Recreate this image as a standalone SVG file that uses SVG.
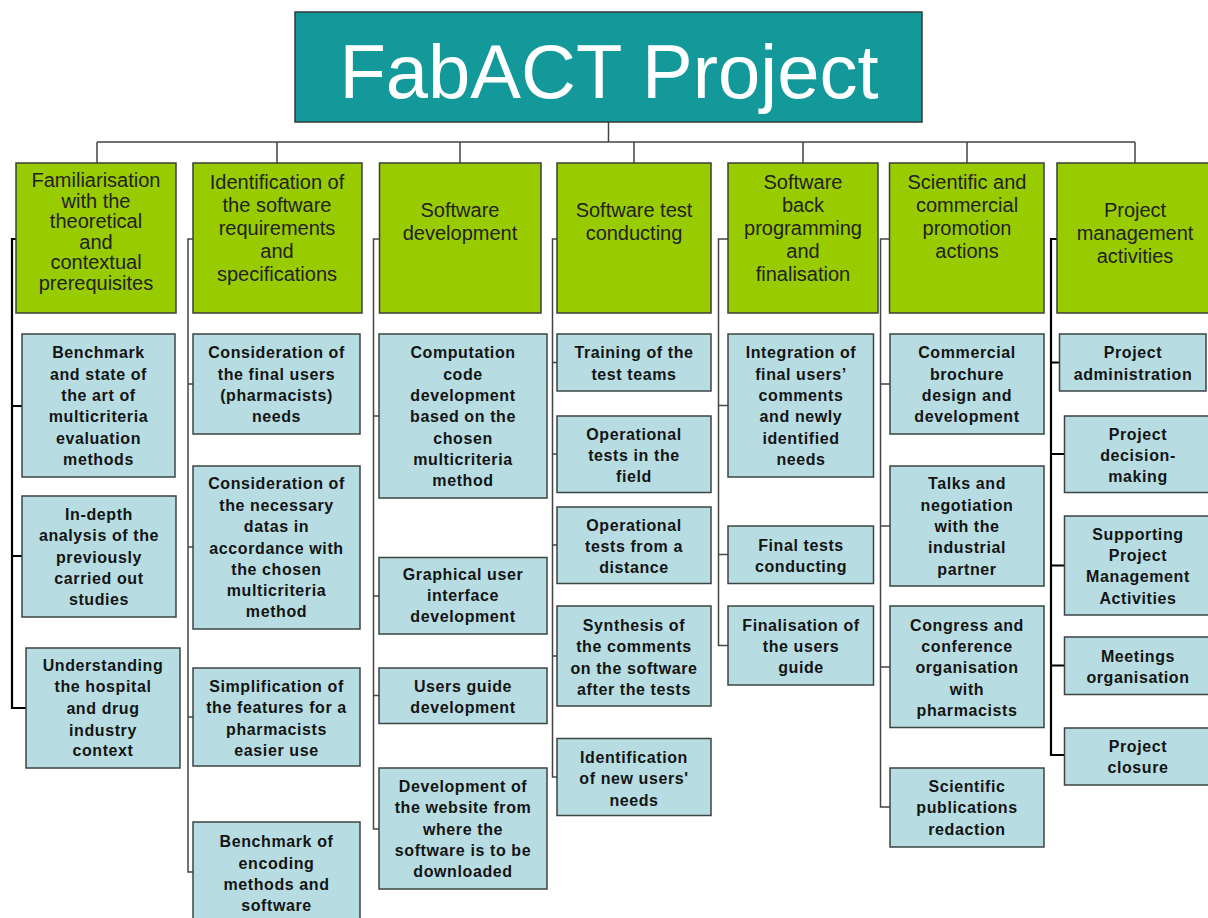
<svg xmlns="http://www.w3.org/2000/svg" width="1208" height="918" viewBox="0 0 1208 918">
<style>
.title{fill:#14999b;stroke:#2f3a3a;stroke-width:1.5}
.hdr{fill:#99cc00;stroke:#3a3f3a;stroke-width:1.5}
.box{fill:#b7dde2;stroke:#3c4444;stroke-width:1.5}
.tt{font-family:"Liberation Sans",Arial,sans-serif;font-size:76px;fill:#ffffff;text-anchor:middle}
.ht{font-family:"Liberation Sans",Arial,sans-serif;font-size:20px;fill:#222222;text-anchor:middle}
.bt{font-family:"Liberation Sans",Arial,sans-serif;font-size:16px;font-weight:bold;letter-spacing:0.6px;fill:#141414;text-anchor:middle}
.ln{fill:none;stroke:#444444;stroke-width:1.5}
.lk{fill:none;stroke:#000000;stroke-width:2.2}
</style>
<rect width="1208" height="918" fill="#ffffff"/>
<g id="connectors">
<path class="ln" d="M608.5,122 V142 M97,142 H1135 M97,142 V163 M277,142 V163 M460,142 V163 M634,142 V163 M803,142 V163 M967,142 V163 M1135,142 V163"/>
<path class="lk" d="M16,239 H12 V708 H26 M12,406 H22 M12,556 H22"/>
<path class="ln" d="M193,239 H188 V872 H193 M188,384 H193 M188,547 H193 M188,717 H193"/>
<path class="ln" d="M379,239 H373.5 V829 H379 M373.5,416 H379 M373.5,596 H379 M373.5,695.5 H379"/>
<path class="ln" d="M557,239 H552.5 V777 H557 M552.5,362.5 H557 M552.5,454 H557 M552.5,545 H557 M552.5,656 H557"/>
<path class="ln" d="M728,239 H718.5 V645.5 H728 M718.5,405.5 H728 M718.5,554.5 H728"/>
<path class="ln" d="M890,239 H880.5 V807 H890 M880.5,384 H890 M880.5,526 H890 M880.5,667 H890"/>
<path class="lk" d="M1057,239 H1051 V755 H1064 M1051,362.5 H1059 M1051,454 H1064 M1051,565.5 H1064 M1051,665.5 H1064"/>
</g>
<g id="root">
<rect class="title" x="295" y="12" width="627" height="110"/>
<text class="tt" x="609" y="98">FabACT Project</text>
</g>
<g id="h1">
<rect class="hdr" x="16" y="163" width="160" height="150"/>
<text class="ht"><tspan x="96" y="187">Familiarisation</tspan><tspan x="96" y="207.5">with the</tspan><tspan x="96" y="228">theoretical</tspan><tspan x="96" y="248.5">and</tspan><tspan x="96" y="269">contextual</tspan><tspan x="96" y="289.5">prerequisites</tspan></text>
</g>
<g id="h2">
<rect class="hdr" x="193" y="163" width="169" height="150"/>
<text class="ht"><tspan x="277" y="189">Identification of</tspan><tspan x="277" y="212">the software</tspan><tspan x="277" y="235">requirements</tspan><tspan x="277" y="258">and</tspan><tspan x="277" y="281">specifications</tspan></text>
</g>
<g id="h3">
<rect class="hdr" x="379.5" y="163" width="161.5" height="150"/>
<text class="ht"><tspan x="460" y="217">Software</tspan><tspan x="460" y="240">development</tspan></text>
</g>
<g id="h4">
<rect class="hdr" x="557" y="163" width="154" height="150"/>
<text class="ht"><tspan x="634" y="217">Software test</tspan><tspan x="634" y="240">conducting</tspan></text>
</g>
<g id="h5">
<rect class="hdr" x="728" y="163" width="150" height="150"/>
<text class="ht"><tspan x="803" y="189">Software</tspan><tspan x="803" y="212">back</tspan><tspan x="803" y="235">programming</tspan><tspan x="803" y="258">and</tspan><tspan x="803" y="281">finalisation</tspan></text>
</g>
<g id="h6">
<rect class="hdr" x="889.5" y="163" width="154.5" height="150"/>
<text class="ht"><tspan x="967" y="189">Scientific and</tspan><tspan x="967" y="212">commercial</tspan><tspan x="967" y="235">promotion</tspan><tspan x="967" y="258">actions</tspan></text>
</g>
<g id="h7">
<rect class="hdr" x="1057" y="163" width="158" height="150"/>
<text class="ht"><tspan x="1135" y="217">Project</tspan><tspan x="1135" y="240">management</tspan><tspan x="1135" y="263">activities</tspan></text>
</g>
<g id="c1a">
<rect class="box" x="22" y="334" width="153" height="143"/>
<text class="bt"><tspan x="98.5" y="358">Benchmark</tspan><tspan x="98.5" y="379.5">and state of</tspan><tspan x="98.5" y="401">the art of</tspan><tspan x="98.5" y="422">multicriteria</tspan><tspan x="98.5" y="443.5">evaluation</tspan><tspan x="98.5" y="465">methods</tspan></text>
</g>
<g id="c1b">
<rect class="box" x="22" y="496" width="154" height="121"/>
<text class="bt"><tspan x="99" y="519.5">In-depth</tspan><tspan x="99" y="541">analysis of the</tspan><tspan x="99" y="562.5">previously</tspan><tspan x="99" y="584">carried out</tspan><tspan x="99" y="605">studies</tspan></text>
</g>
<g id="c1c">
<rect class="box" x="26" y="648" width="154" height="120"/>
<text class="bt"><tspan x="103" y="670.5">Understanding</tspan><tspan x="103" y="692">the hospital</tspan><tspan x="103" y="714">and drug</tspan><tspan x="103" y="735.5">industry</tspan><tspan x="103" y="756">context</tspan></text>
</g>
<g id="c2a">
<rect class="box" x="193" y="334" width="167" height="100"/>
<text class="bt"><tspan x="276.5" y="358">Consideration of</tspan><tspan x="276.5" y="379.5">the final users</tspan><tspan x="276.5" y="401">(pharmacists)</tspan><tspan x="276.5" y="422">needs</tspan></text>
</g>
<g id="c2b">
<rect class="box" x="193" y="466" width="167" height="163"/>
<text class="bt"><tspan x="276.5" y="489">Consideration of</tspan><tspan x="276.5" y="510.5">the necessary</tspan><tspan x="276.5" y="532">datas in</tspan><tspan x="276.5" y="553.5">accordance with</tspan><tspan x="276.5" y="575">the chosen</tspan><tspan x="276.5" y="596">multicriteria</tspan><tspan x="276.5" y="617">method</tspan></text>
</g>
<g id="c2c">
<rect class="box" x="193" y="668" width="167" height="98"/>
<text class="bt"><tspan x="276.5" y="692">Simplification of</tspan><tspan x="276.5" y="713">the features for a</tspan><tspan x="276.5" y="735">pharmacists</tspan><tspan x="276.5" y="756">easier use</tspan></text>
</g>
<g id="c2d">
<rect class="box" x="193" y="822" width="167" height="100"/>
<text class="bt"><tspan x="276.5" y="847">Benchmark of</tspan><tspan x="276.5" y="869">encoding</tspan><tspan x="276.5" y="890">methods and</tspan><tspan x="276.5" y="911">software</tspan></text>
</g>
<g id="c3a">
<rect class="box" x="379" y="334" width="168" height="164"/>
<text class="bt"><tspan x="463" y="358">Computation</tspan><tspan x="463" y="379.5">code</tspan><tspan x="463" y="401">development</tspan><tspan x="463" y="422">based on the</tspan><tspan x="463" y="443.5">chosen</tspan><tspan x="463" y="465">multicriteria</tspan><tspan x="463" y="486">method</tspan></text>
</g>
<g id="c3b">
<rect class="box" x="379" y="557.5" width="168" height="76.5"/>
<text class="bt"><tspan x="463" y="579.5">Graphical user</tspan><tspan x="463" y="601">interface</tspan><tspan x="463" y="622">development</tspan></text>
</g>
<g id="c3c">
<rect class="box" x="379" y="668" width="168" height="55.5"/>
<text class="bt"><tspan x="463" y="692">Users guide</tspan><tspan x="463" y="713">development</tspan></text>
</g>
<g id="c3d">
<rect class="box" x="379" y="768" width="168" height="121"/>
<text class="bt"><tspan x="463" y="792">Development of</tspan><tspan x="463" y="813">the website from</tspan><tspan x="463" y="835">where the</tspan><tspan x="463" y="856">software is to be</tspan><tspan x="463" y="877">downloaded</tspan></text>
</g>
<g id="c4a">
<rect class="box" x="557" y="334" width="154" height="57"/>
<text class="bt"><tspan x="634" y="358">Training of the</tspan><tspan x="634" y="379.5">test teams</tspan></text>
</g>
<g id="c4b">
<rect class="box" x="557" y="416" width="154" height="76.5"/>
<text class="bt"><tspan x="634" y="439.5">Operational</tspan><tspan x="634" y="461">tests in the</tspan><tspan x="634" y="482">field</tspan></text>
</g>
<g id="c4c">
<rect class="box" x="557" y="507" width="154" height="76.5"/>
<text class="bt"><tspan x="634" y="530.5">Operational</tspan><tspan x="634" y="552">tests from a</tspan><tspan x="634" y="573">distance</tspan></text>
</g>
<g id="c4d">
<rect class="box" x="557" y="606" width="154" height="100"/>
<text class="bt"><tspan x="634" y="630.5">Synthesis of</tspan><tspan x="634" y="652">the comments</tspan><tspan x="634" y="674">on the software</tspan><tspan x="634" y="695">after the tests</tspan></text>
</g>
<g id="c4e">
<rect class="box" x="557" y="738.5" width="154" height="77"/>
<text class="bt"><tspan x="634" y="763">Identification</tspan><tspan x="634" y="784">of new users'</tspan><tspan x="634" y="805.5">needs</tspan></text>
</g>
<g id="c5a">
<rect class="box" x="728" y="334" width="145.5" height="143"/>
<text class="bt"><tspan x="801" y="358">Integration of</tspan><tspan x="801" y="379.5">final users’</tspan><tspan x="801" y="401">comments</tspan><tspan x="801" y="422">and newly</tspan><tspan x="801" y="443.5">identified</tspan><tspan x="801" y="465">needs</tspan></text>
</g>
<g id="c5b">
<rect class="box" x="728" y="526" width="145.5" height="57.5"/>
<text class="bt"><tspan x="801" y="550.5">Final tests</tspan><tspan x="801" y="572">conducting</tspan></text>
</g>
<g id="c5c">
<rect class="box" x="728" y="606" width="145.5" height="79"/>
<text class="bt"><tspan x="801" y="630.5">Finalisation of</tspan><tspan x="801" y="652">the users</tspan><tspan x="801" y="673">guide</tspan></text>
</g>
<g id="c6a">
<rect class="box" x="890" y="334" width="154" height="100"/>
<text class="bt"><tspan x="967" y="358">Commercial</tspan><tspan x="967" y="379.5">brochure</tspan><tspan x="967" y="401">design and</tspan><tspan x="967" y="422">development</tspan></text>
</g>
<g id="c6b">
<rect class="box" x="890" y="466" width="154" height="120"/>
<text class="bt"><tspan x="967" y="489">Talks and</tspan><tspan x="967" y="510.5">negotiation</tspan><tspan x="967" y="532">with the</tspan><tspan x="967" y="553">industrial</tspan><tspan x="967" y="574.5">partner</tspan></text>
</g>
<g id="c6c">
<rect class="box" x="890" y="606" width="154" height="121.5"/>
<text class="bt"><tspan x="967" y="630.5">Congress and</tspan><tspan x="967" y="652">conference</tspan><tspan x="967" y="673">organisation</tspan><tspan x="967" y="695">with</tspan><tspan x="967" y="715.5">pharmacists</tspan></text>
</g>
<g id="c6d">
<rect class="box" x="890" y="768" width="154" height="79"/>
<text class="bt"><tspan x="967" y="791.5">Scientific</tspan><tspan x="967" y="813">publications</tspan><tspan x="967" y="835">redaction</tspan></text>
</g>
<g id="c7a">
<rect class="box" x="1059.5" y="334" width="146.5" height="57"/>
<text class="bt"><tspan x="1133" y="358">Project</tspan><tspan x="1133" y="379.5">administration</tspan></text>
</g>
<g id="c7b">
<rect class="box" x="1064.5" y="416" width="148" height="76.5"/>
<text class="bt"><tspan x="1138" y="439.5">Project</tspan><tspan x="1138" y="461">decision-</tspan><tspan x="1138" y="482">making</tspan></text>
</g>
<g id="c7c">
<rect class="box" x="1064.5" y="516" width="148" height="99"/>
<text class="bt"><tspan x="1138" y="539.5">Supporting</tspan><tspan x="1138" y="561">Project</tspan><tspan x="1138" y="582">Management</tspan><tspan x="1138" y="603.5">Activities</tspan></text>
</g>
<g id="c7d">
<rect class="box" x="1064.5" y="637" width="148" height="57.5"/>
<text class="bt"><tspan x="1138" y="661.5">Meetings</tspan><tspan x="1138" y="683">organisation</tspan></text>
</g>
<g id="c7e">
<rect class="box" x="1064.5" y="728" width="148" height="57"/>
<text class="bt"><tspan x="1138" y="752">Project</tspan><tspan x="1138" y="773">closure</tspan></text>
</g>
</svg>
